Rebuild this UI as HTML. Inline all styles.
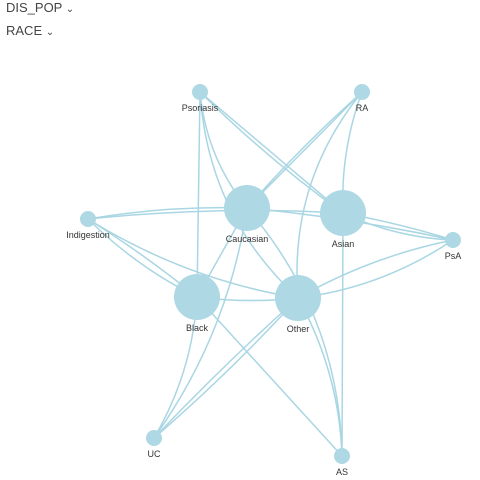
<!DOCTYPE html>
<html><head><meta charset="utf-8"><style>
body{margin:0;width:480px;height:480px;background:#fff;font-family:"Liberation Sans",sans-serif;overflow:hidden;position:relative}
.dd{position:absolute;left:6px;font-size:13px;color:#444}
svg{position:absolute;left:0;top:0}
text{font-family:"Liberation Sans",sans-serif;font-size:9px;fill:#333;text-anchor:middle}
</style></head><body>
<div class="dd" style="top:0px">DIS_POP <span style="font-size:10px">&#8964;</span></div>
<div class="dd" style="top:23px">RACE <span style="font-size:10px">&#8964;</span></div>
<svg id="g" width="480" height="480"></svg>
<script>
const nodeNames=["Psoriasis","RA","Indigestion","PsA","UC","AS","Caucasian","Asian","Black","Other"];
const nodeX=[200,362,88,453,154,342,247,343,197,298];
const nodeY=[92,92,219,240,438,456,208,213,297,298];
const nodeR=[8,8,8,8,8,8,23,23,23,23];
const edgeFrom=["Psoriasis","Psoriasis","Psoriasis","Psoriasis","Psoriasis","RA","RA","RA","RA","Indigestion","Indigestion","Indigestion","Indigestion","Indigestion","PsA","PsA","PsA","PsA","PsA","UC","UC","UC","UC","AS","AS","AS","AS","Caucasian","Black"];
const edgeTo=["Black","Caucasian","Other","Asian","Asian","Caucasian","Caucasian","Other","Asian","Caucasian","Asian","Black","Black","Other","Asian","Asian","Other","Other","Caucasian","Black","Caucasian","Other","Other","Black","Caucasian","Other","Asian","Black","Other"];
const edgeBend=[0,0.15,0.2,0,0.04,0,0.03,0.2,0.1,-0.05,-0.04,0.08,-0.03,0.1,-0.1,0.03,-0.12,0.08,0.03,0.12,0.12,0.03,-0.02,0,0.18,0.12,0,0,0.06];
const svg=document.getElementById('g');const NS="http://www.w3.org/2000/svg";
const idx=n=>nodeNames.indexOf(n);
for(let i=0;i<edgeFrom.length;i++){
 const a=idx(edgeFrom[i]),b=idx(edgeTo[i]);
 const x1=nodeX[a],y1=nodeY[a],x2=nodeX[b],y2=nodeY[b];
 const mx=(x1+x2)/2-(y2-y1)*edgeBend[i],my=(y1+y2)/2+(x2-x1)*edgeBend[i];
 const p=document.createElementNS(NS,'path');
 p.setAttribute('d',`M${x1},${y1} Q${mx},${my} ${x2},${y2}`);
 p.setAttribute('fill','none');p.setAttribute('stroke','#a9d6e3');p.setAttribute('stroke-width','1.5');
 
 
 svg.appendChild(p);
}
for(let i=0;i<nodeNames.length;i++){
 const c=document.createElementNS(NS,'circle');
 c.setAttribute('cx',nodeX[i]);c.setAttribute('cy',nodeY[i]);c.setAttribute('r',nodeR[i]);c.setAttribute('fill','#add8e4');
 
 
 svg.appendChild(c);
 const t=document.createElementNS(NS,'text');
 t.setAttribute('x',nodeX[i]);t.setAttribute('y',nodeY[i]+nodeR[i]+11);t.textContent=nodeNames[i];
 
 
 svg.appendChild(t);
}
</script>
</body></html>
